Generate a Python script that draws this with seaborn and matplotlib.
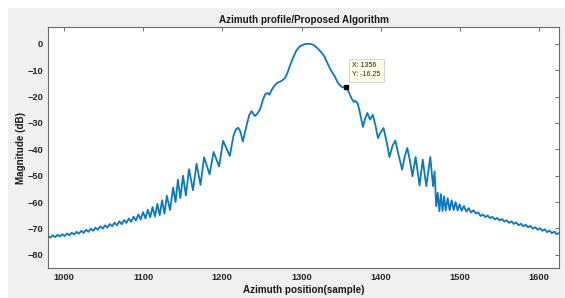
import matplotlib
matplotlib.use("Agg")
import matplotlib.pyplot as plt
import seaborn as sns
from matplotlib.patches import Rectangle

# values (sample index, dB)
left_tail_x = [980, 983, 986, 989, 992, 995, 998, 1001, 1004, 1007, 1010, 1013, 1016, 1019,
               1022, 1025, 1028, 1031, 1034, 1037, 1040, 1043, 1046, 1049, 1052, 1055, 1058,
               1061, 1064, 1067, 1070, 1073, 1076, 1079, 1082, 1085, 1088, 1091, 1094, 1097,
               1100, 1103, 1106, 1109, 1112, 1115, 1118, 1121, 1124, 1127, 1130]
left_tail_y = [-72.8, -73.5, -72.6, -73.3, -72.4, -73.1, -72.2, -72.9, -71.9, -72.6, -71.6,
               -72.3, -71.3, -72.0, -70.9, -71.7, -70.5, -71.3, -70.1, -70.9, -69.7, -70.5,
               -69.2, -70.1, -68.8, -69.7, -68.3, -69.2, -67.8, -68.8, -67.3, -68.4, -66.8,
               -67.9, -66.2, -67.5, -65.5, -67.0, -64.7, -66.6, -63.8, -66.2, -62.9, -65.8,
               -61.9, -65.5, -60.7, -65.0, -59.3, -64.4, -57.6]

left_lobe_x = [1134, 1138, 1141, 1144, 1147, 1150.5, 1154, 1158, 1163, 1167.5, 1172.5, 1177,
               1184, 1189, 1196, 1201, 1209.5, 1214, 1217, 1220, 1222.5, 1226, 1231, 1234,
               1237, 1241, 1245, 1248, 1251, 1254, 1257, 1259.5]
left_lobe_y = [-63.0, -54.5, -60.0, -51.5, -58.5, -50.0, -57.5, -47.5, -55.5, -45.5, -53.5,
               -43.0, -49.5, -41.0, -46.5, -36.8, -42.5, -35.0, -32.5, -31.8, -33.0, -37.0,
               -30.5, -27.0, -25.5, -27.4, -26.2, -24.5, -21.5, -19.2, -18.6, -19.3]

main_lobe_x = [1262, 1266, 1270, 1275, 1279, 1282, 1285, 1289, 1293.5, 1298, 1303, 1307,
               1311, 1315, 1320, 1325, 1329, 1333, 1337, 1342, 1346, 1350, 1353, 1356]
main_lobe_y = [-17.6, -15.8, -14.7, -14.0, -13.0, -11.2, -8.6, -5.5, -2.5, -0.9, -0.2, 0.0,
               0.0, -0.4, -1.6, -3.2, -4.8, -7.5, -10.0, -12.4, -14.8, -16.2, -16.5, -16.25]

right_lobe_x = [1360, 1363, 1366, 1368, 1371, 1374, 1377.5, 1380, 1383, 1386.5, 1390, 1393,
                1396.5, 1400, 1403.5, 1407, 1411, 1415, 1418.5, 1422, 1427, 1430, 1433.5,
                1437, 1440, 1444, 1449, 1453, 1457.5, 1462.5, 1466, 1468, 1470]
right_lobe_y = [-18.5, -20.6, -22.0, -21.6, -22.6, -26.5, -31.5, -28.5, -26.2, -28.7, -26.9,
                -30.5, -35.7, -33.5, -31.9, -36.5, -42.9, -38.5, -36.7, -41.5, -47.7, -43.0,
                -39.5, -44.5, -50.2, -42.9, -53.7, -43.9, -54.0, -42.9, -54.0, -48.4, -61.6]

right_tail_x = [1472, 1474, 1476, 1478, 1480, 1482, 1484.5, 1487, 1489.5, 1492, 1494.5, 1497,
                1499.5, 1502, 1505, 1508, 1511, 1514, 1517, 1520, 1523, 1526, 1529, 1532,
                1535, 1538, 1541, 1544, 1547, 1550, 1553, 1556, 1559, 1562, 1565, 1568, 1571,
                1574, 1577, 1580, 1583, 1586, 1589, 1592, 1595, 1598, 1601, 1604, 1607, 1610,
                1613, 1616, 1619, 1622, 1625]
right_tail_y = [-56.5, -63.5, -57.0, -63.4, -57.8, -63.2, -58.5, -63.1, -59.3, -63.0, -60.0,
                -63.2, -60.8, -63.3, -61.5, -63.6, -62.3, -64.0, -63.1, -64.3, -63.9, -65.3,
                -64.7, -65.7, -65.1, -66.1, -65.6, -66.6, -66.0, -67.0, -66.4, -67.4, -66.9,
                -67.9, -67.3, -68.3, -67.7, -68.8, -68.2, -69.2, -68.6, -69.6, -69.0, -70.1,
                -69.5, -70.5, -69.9, -70.9, -70.3, -71.4, -70.8, -71.8, -71.2, -72.2, -71.7]

tip_x = 1356
tip_y = -16.25

x_ticks = [1000, 1100, 1200, 1300, 1400, 1500, 1600]
y_ticks = [0, -10, -20, -30, -40, -50, -60, -70, -80]

samples = left_tail_x + left_lobe_x + main_lobe_x + right_lobe_x + right_tail_x
magnitude = left_tail_y + left_lobe_y + main_lobe_y + right_lobe_y + right_tail_y

sns.set_style("white")
plt.rcParams['font.family'] = ['Liberation Sans', 'DejaVu Sans']

fig = plt.figure(figsize=(5.65, 2.98), dpi=100, facecolor='white')
fig.patches.append(Rectangle((8 / 565, 0), 1, 290 / 298, transform=fig.transFigure,
                             facecolor='#f0f0f0', edgecolor='none', zorder=-10))
ax = fig.add_axes([48 / 565, 30 / 298, 511 / 565, 241 / 298])
ax.set_facecolor('white')

sns.lineplot(x=samples, y=magnitude, ax=ax, color='#0a78c8', linewidth=1.3, sort=False,
             estimator=None)

ax.plot([tip_x], [tip_y], marker='s', color='black', markersize=3.2, zorder=5)
ax.annotate(f"X: {tip_x}\nY: {tip_y}", xy=(tip_x, tip_y), xytext=(4.5, 6),
            textcoords='offset points', fontsize=5, color='#262626', ha='left', va='bottom',
            linespacing=1.4,
            bbox=dict(boxstyle='square,pad=0.5', fc='#fbfbe6', ec='#d0d0c0', lw=0.6))

ax.set_xlim(980, 1625)
ax.set_ylim(-85, 6.4)
ax.set_xticks(x_ticks)
ax.set_yticks(y_ticks)
ax.tick_params(direction='in', length=3, width=0.6, color='#555555', top=True, right=True,
               labelsize=6.7, labelcolor='#262626', pad=3.5)
for lab in ax.get_xticklabels() + ax.get_yticklabels():
    lab.set_fontweight('bold')
for sp in ax.spines.values():
    sp.set_color('#6a6a6a')
    sp.set_linewidth(0.8)

ax.set_title('Azimuth profile/Proposed Algorithm', fontsize=7.1, fontweight='bold',
             color='#1a1a1a', pad=3)
ax.set_xlabel('Azimuth position(sample)', fontsize=7.1, fontweight='bold', color='#1a1a1a',
              labelpad=2.5)
ax.set_ylabel('Magnitude (dB)', fontsize=7.1, fontweight='bold', color='#1a1a1a', labelpad=1)

fig.savefig('out.png', dpi=100, facecolor=fig.get_facecolor())
